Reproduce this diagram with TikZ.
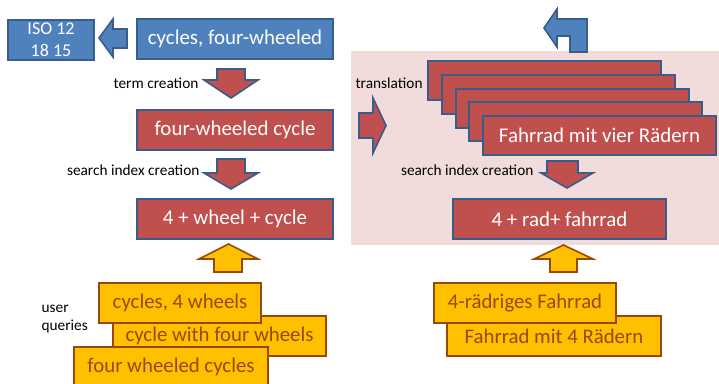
\documentclass[tikz,border=0pt]{standalone}
\usepackage{fontspec}
\setmainfont{Carlito}

\definecolor{boxblue}{HTML}{4F81BD}
\definecolor{lineblue}{HTML}{385D8A}
\definecolor{boxred}{HTML}{C0504D}
\definecolor{boxyellow}{HTML}{FFC000}
\definecolor{linebrown}{HTML}{984807}
\definecolor{bgpink}{HTML}{F2DCDB}

\begin{document}
\begin{tikzpicture}[x=0.75pt, y=-0.75pt,
        bluebox/.style={draw=lineblue, fill=boxblue, line width=1.5pt, text=white,
            minimum height=30pt, inner sep=0pt, font=\fontsize{15.7}{18}\selectfont},
        redbox/.style={bluebox, fill=boxred},
        querybox/.style={draw=linebrown, fill=boxyellow, line width=1.5pt, text=linebrown,
            minimum height=30pt, inner sep=0pt, font=\fontsize{15.6}{18}\selectfont},
        redarrow/.style={draw=lineblue, fill=boxred, line width=1.2pt, line join=miter},
        bluearrow/.style={redarrow, fill=boxblue},
        queryarrow/.style={draw=linebrown, fill=boxyellow, line width=1.2pt},
        steplabel/.style={font=\fontsize{11.5}{14}\selectfont, inner sep=1pt}]
        \useasboundingbox (0,0) rectangle (719,383);
        % ==== TRANSLATION AREA ====
        \fill[bgpink] (351,51) rectangle (719,245);
        % ==== ENGLISH SIDE ====
        \node[bluebox, minimum width=64.5pt, align=center,
            font=\fontsize{13.5}{16.5}\selectfont] (iso) at (51,40) {ISO 12\\18 15};
        \node[bluebox, minimum width=147pt] (term) at (235,39) {cycles, four-wheeled};
        \node[redbox, minimum width=147pt] (cycle) at (235,129.5) {four-wheeled cycle};
        \node[redbox, minimum width=147pt] (indexen) at (235,219) {4 + wheel + cycle};
        \draw[bluearrow] (99,38) -- (113,19) -- (113,29) -- (127,29) -- (127,48)
            -- (113,48) -- (113,57) -- cycle;
        \draw[redarrow] (217,69) -- (245,69) -- (245,80) -- (258,80) -- (231,98)
            -- (204,80) -- (217,80) -- cycle;
        \draw[redarrow] (217,159) -- (245,159) -- (245,173) -- (258,173) -- (231,189)
            -- (204,173) -- (217,173) -- cycle;
        \node[steplabel, anchor=east] (termlbl) at (200,83) {term creation};
        \node[steplabel, anchor=east] (indexlbl) at (201,170) {search index creation};
        % ==== USER QUERIES (EN) ====
        \draw[queryarrow] (214,272) -- (242,272) -- (242,259) -- (258,259) -- (228.5,244)
            -- (199,259) -- (214,259) -- cycle;
        \node[querybox, minimum width=159.75pt] (qwith) at (219.5,336) {cycle with four wheels};
        \node[querybox, minimum width=121.5pt] (qcomma) at (180,303) {cycles, 4 wheels};
        \node[querybox, minimum width=145.5pt] (qfour) at (171,367) {four wheeled cycles};
        \node[steplabel, anchor=west, align=left] (userlbl) at (40,319) {user\\queries};
        % ==== GERMAN SIDE ====
        \draw[bluearrow] (544,28) -- (557,9) -- (557,19) -- (587,19) -- (587,52)
            -- (570,52) -- (570,36) -- (557,36) -- (557,47) -- cycle;
        \draw[redarrow] (359,113) -- (373,113) -- (373,98) -- (386,125.5) -- (373,153)
            -- (373,138) -- (359,138) -- cycle;
        \foreach \k in {0,...,3}
            \node[redbox, minimum width=174.75pt, minimum height=29.25pt]
                (trans\k) at ({544.5+13.75*\k},{80.5+13.75*\k}) {};
        \node[redbox, minimum width=174.75pt, minimum height=29.25pt]
            (trans4) at (599.5,135.5) {Fahrrad mit vier Rädern};
        \node[steplabel, anchor=west] (translbl) at (354,83) {translation};
        \draw[redarrow] (547,161) -- (578,161) -- (578,173) -- (593,173) -- (567,188)
            -- (541,173) -- (547,173) -- cycle;
        \node[steplabel, anchor=east] (indexlblde) at (535,170) {search index creation};
        \node[redbox, minimum width=159.75pt] (indexde) at (559.5,219) {4 + rad+ fahrrad};
        % ==== USER QUERIES (DE) ====
        \draw[queryarrow] (550,272) -- (577,272) -- (577,259) -- (593,259) -- (563.5,245)
            -- (534,259) -- (550,259) -- cycle;
        \node[querybox, minimum width=160.5pt] (qraedern) at (554,336) {Fahrrad mit 4 Rädern};
        \node[querybox, minimum width=136.5pt] (qraedrig) at (525,303) {4-rädriges Fahrrad};
     \end{tikzpicture}
\end{document}
